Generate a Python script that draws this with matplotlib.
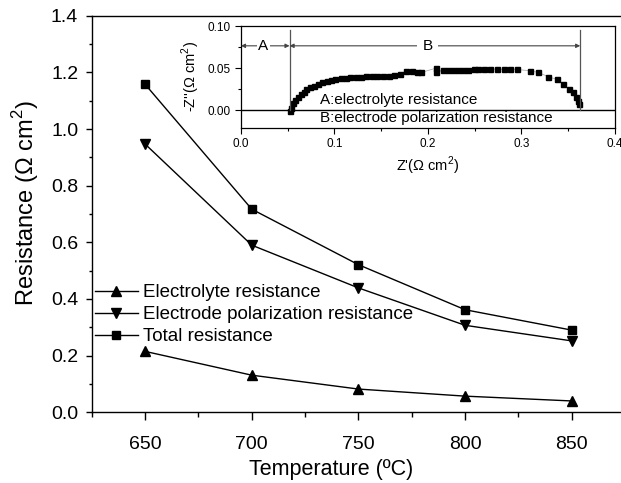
import matplotlib
matplotlib.use("Agg")
import matplotlib.pyplot as plt
from matplotlib.ticker import MultipleLocator

plt.rcParams['font.family'] = ['Liberation Sans', 'DejaVu Sans']
plt.rcParams['mathtext.fontset'] = 'custom'
plt.rcParams['mathtext.rm'] = 'Liberation Sans'

# Main data
temperature = [650, 700, 750, 800, 850]
electrolyte = [0.215, 0.131, 0.082, 0.057, 0.040]
electrode = [0.947, 0.590, 0.439, 0.307, 0.252]
total = [1.158, 0.717, 0.521, 0.362, 0.290]

# Inset impedance spectrum
z_real = [0.052, 0.054, 0.056, 0.058, 0.061, 0.064, 0.067, 0.070, 0.074, 0.078,
          0.082, 0.087, 0.092, 0.096, 0.101, 0.107, 0.112, 0.117, 0.123, 0.128,
          0.134, 0.140, 0.146, 0.152, 0.158, 0.164, 0.170, 0.177, 0.183, 0.188,
          0.193, 0.209, 0.209, 0.216, 0.222, 0.227, 0.232, 0.238, 0.243, 0.249,
          0.254, 0.260, 0.266, 0.274, 0.281, 0.288, 0.295, 0.309, 0.318, 0.329,
          0.338, 0.345, 0.351, 0.355, 0.358, 0.361, 0.362]
z_imag = [-0.001, 0.003, 0.008, 0.012, 0.015, 0.019, 0.021, 0.025, 0.027, 0.029,
          0.031, 0.033, 0.035, 0.036, 0.037, 0.038, 0.0385, 0.039, 0.0393, 0.0397,
          0.040, 0.040, 0.0405, 0.0405, 0.041, 0.0417, 0.043, 0.0468, 0.0468, 0.0456,
          0.0448, 0.050, 0.045, 0.0476, 0.0476, 0.0476, 0.0478, 0.048, 0.048, 0.0484,
          0.0486, 0.049, 0.0492, 0.0484, 0.0484, 0.0484, 0.0484, 0.0468, 0.0448, 0.0397,
          0.0365, 0.0306, 0.0246, 0.021, 0.0159, 0.0107, 0.0068]
r_electrolyte = 0.052
r_total = 0.363

fig = plt.figure(figsize=(6.21, 4.83), dpi=100)
ax = fig.add_axes([0.1477, 0.1464, 0.859, 0.8211])

ax.plot(temperature, electrolyte, color='black', lw=1, marker='^', ms=6.5,
        label='Electrolyte resistance')
ax.plot(temperature, electrode, color='black', lw=1, marker='v', ms=6.5,
        label='Electrode polarization resistance')
ax.plot(temperature, total, color='black', lw=1, marker='s', ms=5.5,
        label='Total resistance')

ax.set_xlim(625, 875)
ax.set_ylim(0, 1.4)
ax.xaxis.set_major_locator(MultipleLocator(50))
ax.xaxis.set_minor_locator(MultipleLocator(25))
ax.yaxis.set_major_locator(MultipleLocator(0.2))
ax.yaxis.set_minor_locator(MultipleLocator(0.1))
ax.yaxis.set_major_formatter(plt.FuncFormatter(lambda v, p: f"{v:.1f}"))
ax.tick_params(axis='x', which='major', direction='out', length=5.8, width=1,
               labelsize=14, pad=11.5)
ax.tick_params(axis='x', which='minor', direction='out', length=3.5, width=1)
ax.tick_params(axis='y', which='major', direction='out', length=4.2, width=1,
               labelsize=14, pad=5.5)
ax.tick_params(axis='y', which='minor', direction='out', length=2.5, width=1)
ax.spines['right'].set_visible(False)
for s in ['left', 'bottom', 'top']:
    ax.spines[s].set_linewidth(1)
ax.set_xlabel('Temperature (ºC)', fontsize=15.5)
ax.set_ylabel('Resistance (Ω cm$^2$)', fontsize=17)
ax.xaxis.set_label_coords(0.449, -0.118)
ax.yaxis.set_label_coords(-0.096, 0.5265)

leg = ax.legend(loc='upper left', bbox_to_anchor=(0.006, 0.323), frameon=False,
                fontsize=13.5, handlelength=2.3, handletextpad=0.28,
                labelspacing=0.26, borderaxespad=0, borderpad=0)

# Inset
axi = fig.add_axes([0.388, 0.7356, 0.602, 0.2104])
axi.plot(z_real, z_imag, color='#b0b0b0', lw=0.6, marker='s', ms=3.6,
         mfc='black', mec='black')
axi.set_xlim(0, 0.4)
axi.set_ylim(-0.021, 0.10)
axi.axhline(0, color='black', lw=1)
axi.plot([r_electrolyte, r_electrolyte], [0, 0.095], color='#555555', lw=0.9)
axi.plot([r_total, r_total], [0, 0.095], color='#555555', lw=0.9)
axi.annotate('', xy=(0, 0.0765), xytext=(r_electrolyte, 0.0765),
             arrowprops=dict(arrowstyle='<|-|>', color='#444444', lw=0.8,
                             mutation_scale=6, shrinkA=0, shrinkB=0))
axi.annotate('', xy=(r_electrolyte, 0.0765), xytext=(r_total, 0.0765),
             arrowprops=dict(arrowstyle='<|-|>', color='#444444', lw=0.8,
                             mutation_scale=6, shrinkA=0, shrinkB=0))
axi.text(0.024, 0.0765, 'A', fontsize=11, ha='center', va='center',
         bbox=dict(fc='white', ec='none', pad=1.0))
axi.text(0.2, 0.0765, 'B', fontsize=11, ha='center', va='center',
         bbox=dict(fc='white', ec='none', pad=4))
axi.text(0.085, 0.0125, 'A:electrolyte resistance', fontsize=11, ha='left', va='center')
axi.text(0.085, -0.0099, 'B:electrode polarization resistance', fontsize=11,
         ha='left', va='center')
axi.xaxis.set_major_locator(MultipleLocator(0.1))
axi.xaxis.set_minor_locator(MultipleLocator(0.05))
axi.yaxis.set_major_locator(MultipleLocator(0.05))
axi.yaxis.set_minor_locator(MultipleLocator(0.025))
axi.xaxis.set_major_formatter(plt.FuncFormatter(lambda v, p: f"{v:.1f}"))
axi.yaxis.set_major_formatter(plt.FuncFormatter(lambda v, p: f"{v:.2f}"))
axi.tick_params(which='major', direction='out', length=4, width=0.8, labelsize=8.5)
axi.tick_params(which='minor', direction='out', length=2, width=0.8)
for s in axi.spines.values():
    s.set_linewidth(0.9)
axi.set_xlabel("Z'(Ω cm$^2$)", fontsize=10.5, labelpad=3)
axi.set_ylabel("-Z''(Ω cm$^2$)", fontsize=10.5, labelpad=4)

fig.savefig('out.png', dpi=100)
